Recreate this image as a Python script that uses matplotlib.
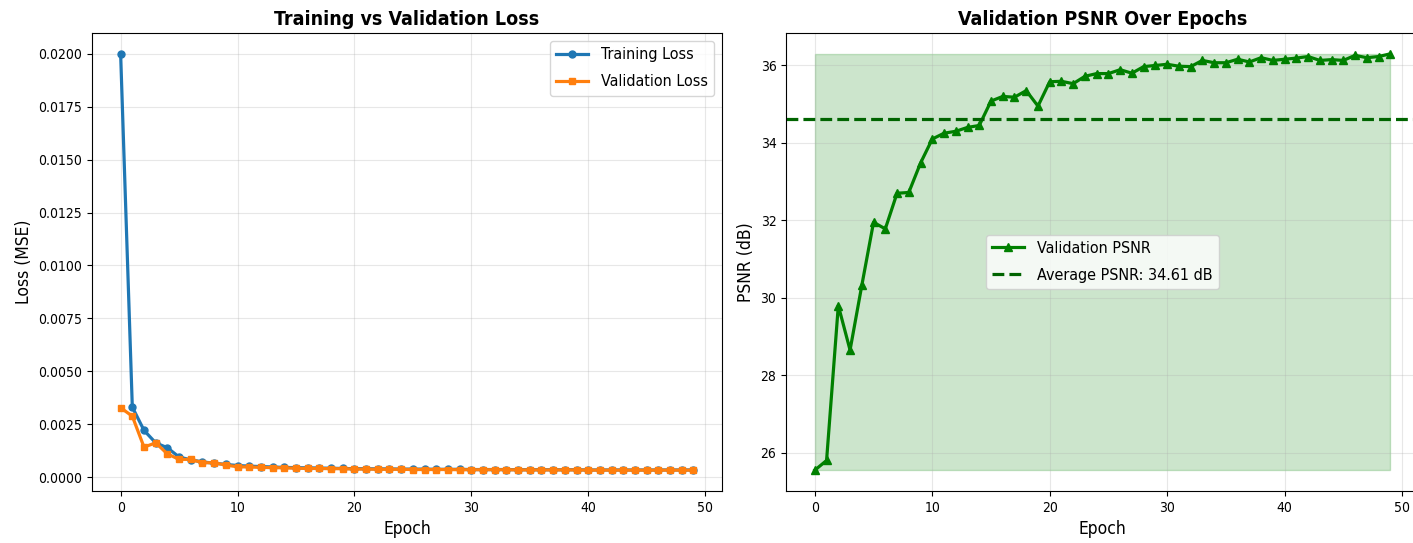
import numpy as np
import matplotlib
matplotlib.use("Agg")
import matplotlib.pyplot as plt

plt.rcParams["font.family"] = ["DejaVu Sans"]
plt.rcParams["font.stretch"] = "condensed"

epochs = list(range(50))

train_loss = [0.0200, 0.00331, 0.00221, 0.00162, 0.00139, 0.00095, 0.00082, 0.00072,
              0.00066, 0.00060, 0.00055, 0.00052, 0.00050, 0.00048, 0.00046, 0.00045,
              0.00044, 0.00043, 0.00042, 0.00041, 0.00040, 0.00040, 0.00039, 0.00039,
              0.00038, 0.00038, 0.00038, 0.00037, 0.00037, 0.00037, 0.00036, 0.00036,
              0.00036, 0.00036, 0.00035, 0.00035, 0.00035, 0.00035, 0.00035, 0.00035,
              0.00034, 0.00034, 0.00034, 0.00034, 0.00034, 0.00034, 0.00034, 0.00034,
              0.00034, 0.00034]

val_loss = [0.00328, 0.00288, 0.00142, 0.00162, 0.00110, 0.00084, 0.00084, 0.00068,
            0.00068, 0.00057, 0.00049, 0.00048, 0.00046, 0.00045, 0.00044, 0.00042,
            0.00041, 0.00041, 0.00040, 0.00040, 0.00038, 0.00038, 0.00037, 0.00037,
            0.00037, 0.00036, 0.00036, 0.00036, 0.00036, 0.00035, 0.00035, 0.00035,
            0.00035, 0.00035, 0.00034, 0.00034, 0.00034, 0.00034, 0.00034, 0.00034,
            0.00033, 0.00033, 0.00033, 0.00033, 0.00033, 0.00033, 0.00033, 0.00033,
            0.00033, 0.00033]

val_psnr = [25.55, 25.80, 29.80, 28.65, 30.32, 31.95, 31.78, 32.70, 32.72, 33.48,
            34.10, 34.25, 34.30, 34.40, 34.45, 35.08, 35.20, 35.18, 35.35, 34.95,
            35.58, 35.59, 35.53, 35.72, 35.79, 35.79, 35.89, 35.80, 35.97, 36.00,
            36.03, 35.98, 35.97, 36.13, 36.07, 36.07, 36.16, 36.09, 36.20, 36.13,
            36.16, 36.19, 36.23, 36.13, 36.15, 36.13, 36.26, 36.20, 36.23, 36.30]

avg_psnr = float(np.mean(val_psnr))

fig = plt.figure(figsize=(14.13, 5.43), dpi=100)
ax1 = fig.add_axes([0.0651, 0.0958, 0.4459, 0.8434])
ax2 = fig.add_axes([0.5563, 0.0958, 0.4480, 0.8434])

# Loss curves
ax1.plot(epochs, train_loss, color="#1f77b4", marker="o", markersize=5,
         linewidth=2.3, label="Training Loss")
ax1.plot(epochs, val_loss, color="#ff7f0e", marker="s", markersize=5,
         linewidth=2.3, label="Validation Loss")
ax1.set_title("Training vs Validation Loss", fontsize=14, fontweight="bold")
ax1.set_xlabel("Epoch", fontsize=12.5)
ax1.set_ylabel("Loss (MSE)", fontsize=12.5)
ax1.legend(fontsize=11.5, loc="upper right", labelspacing=0.75)
ax1.grid(True, alpha=0.3)
ax1.tick_params(labelsize=10)

# PSNR curve with its range band and mean
ax2.plot(epochs, val_psnr, color="green", marker="^", markersize=5.5,
         linewidth=2.3, label="Validation PSNR")
ax2.axhline(avg_psnr, color="darkgreen", linestyle="--", linewidth=2.3,
            label=f"Average PSNR: {avg_psnr:.2f} dB")
ax2.fill_between(epochs, min(val_psnr), max(val_psnr), color="green", alpha=0.2)
ax2.set_title("Validation PSNR Over Epochs", fontsize=14, fontweight="bold")
ax2.set_xlabel("Epoch", fontsize=12.5)
ax2.set_ylabel("PSNR (dB)", fontsize=12.5)
ax2.legend(fontsize=11.5, loc="center", labelspacing=0.75)
ax2.grid(True, alpha=0.3)
ax2.tick_params(labelsize=10)

fig.savefig("out.png", dpi=100)
